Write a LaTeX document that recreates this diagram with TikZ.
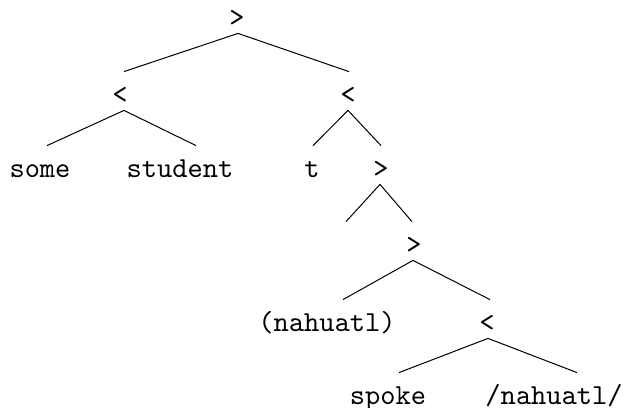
\documentclass[tikz,border=0pt]{standalone}
\usepackage{tikz}
\font\treett=cmtt10 at 14.5pt
\tikzset{
  tnode/.style={anchor=base,inner sep=0pt,text height=15.5pt,text depth=3.5pt,
    font=\treett},
  branch/.style={line width=0.5pt}
}
\begin{document}
\begin{tikzpicture}[x=0.5pt,y=-0.5pt]
        \useasboundingbox (0,0) rectangle (623,408);
        % Nodes
        \node[tnode] (root) at (237,26) {>};
        \node[tnode] (l) at (120,103) {<};
        \node[tnode] (r) at (348,103) {<};
        \node[tnode] (some) at (40,177) {some};
        \node[tnode] (student) at (180,177) {student};
        \node[tnode] (t) at (312,177) {t};
        \node[tnode] (g) at (381,177) {>};
        \node[tnode] (e) at (346,253) {};
        \node[tnode] (gg) at (414,253) {>};
        \node[tnode] (nah) at (327,331) {(nahuatl)};
        \node[tnode] (lt) at (487,331) {<};
        \node[tnode] (spoke) at (388,404) {spoke};
        \node[tnode] (slash) at (554,404) {/nahuatl/};
        % Branches
        \draw[branch] ([xshift=0.5pt]root.south) -- ([xshift=2pt]l.north);
        \draw[branch] ([xshift=0.5pt]root.south) -- ([xshift=0.5pt]r.north);
        \draw[branch] ([xshift=2pt]l.south) -- ([xshift=3.5pt]some.north);
        \draw[branch] ([xshift=2pt]l.south) -- ([xshift=8pt]student.north);
        \draw[branch] (r.south) -- ([xshift=0.5pt]t.north);
        \draw[branch] (r.south) -- (g.north);
        \draw[branch] ([xshift=-0.5pt]g.south) -- (e.north);
        \draw[branch] ([xshift=-0.5pt]g.south) -- ([xshift=-1pt]gg.north);
        \draw[branch] ([xshift=-0.5pt]gg.south) -- ([xshift=8pt]nah.north);
        \draw[branch] ([xshift=-0.5pt]gg.south) -- ([xshift=1.5pt]lt.north);
        \draw[branch] ([xshift=0.5pt]lt.south) -- ([xshift=5.5pt]spoke.north);
        \draw[branch] ([xshift=0.5pt]lt.south) -- ([xshift=11.5pt]slash.north);
    \end{tikzpicture}
\end{document}
